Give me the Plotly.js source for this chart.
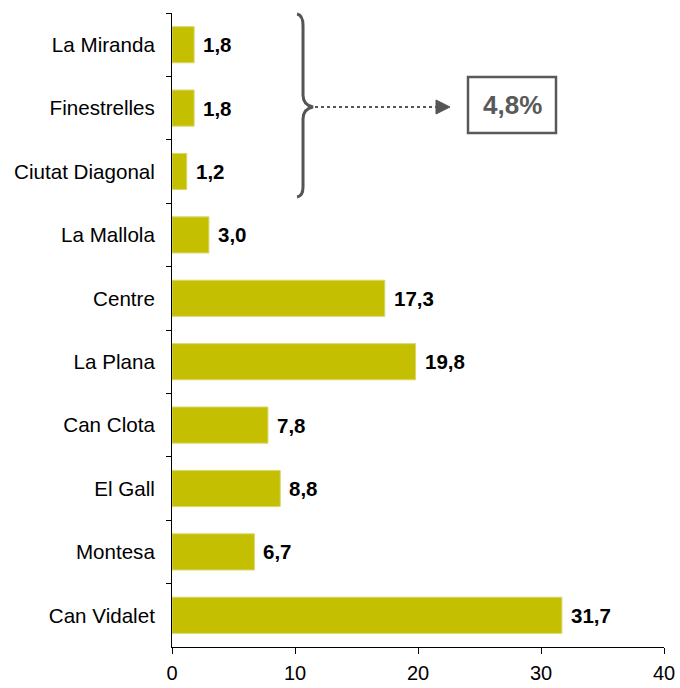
<!DOCTYPE html>
<html>
<head>
<meta charset="utf-8">
<script src="https://cdn.plot.ly/plotly-3.0.1.min.js"></script>
<style>html,body{margin:0;padding:0;background:#fff;}#chart{width:680px;height:688px;}</style>
</head>
<body>
<div id="chart"></div>
<script>
// Data (top to bottom)
const categories = ["La Miranda", "Finestrelles", "Ciutat Diagonal", "La Mallola", "Centre", "La Plana", "Can Clota", "El Gall", "Montesa", "Can Vidalet"];
const values = [1.8, 1.8, 1.2, 3.0, 17.3, 19.8, 7.8, 8.8, 6.7, 31.7];
const xTicks = [0, 10, 20, 30, 40];
const groupTotalLabel = "4,8%";

const W = 680, H = 688;
const M = {l: 172, r: 16, t: 13, b: 41};
const pw = W - M.l - M.r, ph = H - M.t - M.b;
const px = x => (x - M.l) / pw;
const py = y => (H - M.b - y) / ph;
const P = (x, y) => px(x).toFixed(4) + "," + py(y).toFixed(4);

const fmt = v => v.toFixed(1).replace(".", ",");

const trace = {
  type: "bar",
  orientation: "h",
  x: values,
  y: categories,
  width: 0.57,
  marker: {color: "#c4bf00", line: {color: "#d9d670", width: 1}},
  hoverinfo: "skip"
};

const valueAnnotations = values.map((v, i) => ({
  x: v, y: categories[i], xref: "x", yref: "y",
  text: "<b>" + fmt(v) + "</b>", showarrow: false,
  xanchor: "left", yanchor: "middle", xshift: 7,
  font: {family: "Liberation Sans, Arial, sans-serif", size: 20.5, color: "#000"}
}));

const bracePath = "M" + P(297, 14) + " Q" + P(303, 15) + " " + P(303, 26) +
  " L" + P(303, 95) + " Q" + P(303, 105) + " " + P(313, 107) +
  " Q" + P(303, 109) + " " + P(303, 119) + " L" + P(303, 187) +
  " Q" + P(303, 196) + " " + P(297, 197);

const shapes = [
  {type: "path", xref: "paper", yref: "paper", path: bracePath,
   line: {color: "#555555", width: 3}},
  {type: "line", xref: "paper", yref: "paper", x0: px(315), x1: px(437), y0: py(107), y1: py(107),
   line: {color: "#555555", width: 2, dash: "dot"}},
  {type: "path", xref: "paper", yref: "paper",
   path: "M" + P(436, 100) + " L" + P(450, 107) + " L" + P(436, 114) + " Z",
   fillcolor: "#555555", line: {color: "#555555", width: 1}},
  {type: "rect", xref: "paper", yref: "paper", x0: px(468), x1: px(556), y0: py(133), y1: py(77),
   line: {color: "#595959", width: 2.5}, fillcolor: "rgba(0,0,0,0)"}
];

const layout = {
  width: W, height: H,
  margin: M,
  paper_bgcolor: "#fff", plot_bgcolor: "#fff",
  showlegend: false,
  separators: ",.",
  font: {family: "Liberation Sans, Arial, sans-serif", size: 20, color: "#000"},
  xaxis: {
    range: [0, 40], tickvals: xTicks, ticktext: xTicks.map(String),
    showgrid: false, zeroline: false, showline: true, linecolor: "#000", linewidth: 1,
    ticks: "outside", ticklen: 6, tickcolor: "#000", tickwidth: 1,
    ticklabelstandoff: 2,
    tickfont: {size: 20, color: "#000"}, fixedrange: true
  },
  yaxis: {
    type: "category", categoryorder: "array", categoryarray: categories,
    range: [categories.length - 0.5, -0.5],
    showgrid: false, zeroline: false, showline: true, linecolor: "#000", linewidth: 1,
    ticks: "outside", tickson: "boundaries", ticklen: 5, tickcolor: "#000", tickwidth: 1,
    ticklabelstandoff: 12,
    tickfont: {size: 20.6, color: "#000"}, fixedrange: true
  },
  shapes: shapes,
  annotations: valueAnnotations.concat([{
    xref: "paper", yref: "paper", x: px(512), y: py(105),
    text: "<b>" + groupTotalLabel + "</b>", showarrow: false,
    xanchor: "center", yanchor: "middle",
    font: {family: "Liberation Sans, Arial, sans-serif", size: 26, color: "#595959"}
  }])
};

Plotly.newPlot("chart", [trace], layout, {displayModeBar: false, staticPlot: true});
</script>
</body>
</html>
